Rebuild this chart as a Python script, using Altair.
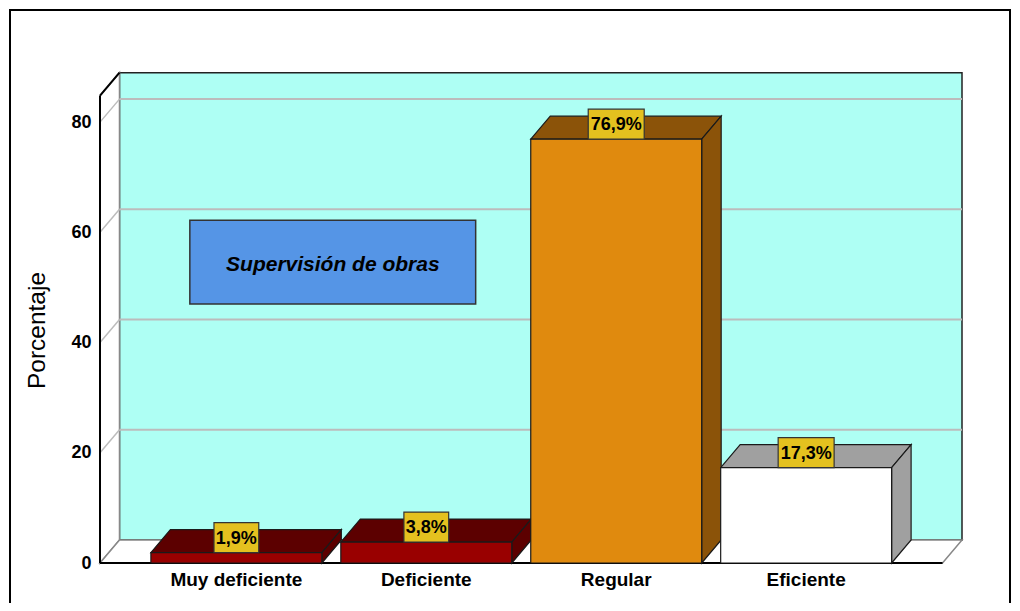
import altair as alt
import pandas as pd

# ---- data ----
categories = ["Muy deficiente", "Deficiente", "Regular", "Eficiente"]
values = [1.9, 3.8, 76.9, 17.3]
labels = ["1,9%", "3,8%", "76,9%", "17,3%"]
front_colors = ["#990000", "#990000", "#e08a0e", "#ffffff"]
shade_colors = ["#5c0000", "#5c0000", "#8b5309", "#a0a0a0"]
y_ticks = [0, 20, 40, 60, 80]
annotation = "Supervisión de obras"

# ---- geometry (styling constants) ----
PXX = 190.0          # px per category unit
PXY = 496.0 / 90.0   # px per value unit
HALF = 0.45          # half bar width (category units)
X0, X1 = -0.718, 3.718
DX = 19.5 / PXX      # depth offset x
DY = 23.0 / PXY      # depth offset y
TOP = 84.8
W = 862
H = 496
FONT = "Liberation Sans"

xs = alt.Scale(domain=[X0, X1 + DX], nice=False, zero=False)
ys = alt.Scale(domain=[0, 90], nice=False, zero=False)


def X(f, **kw):
    return alt.X(f, scale=xs, axis=None, **kw)


def Y(f, **kw):
    return alt.Y(f, scale=ys, **kw)


bars = pd.DataFrame({
    "name": categories, "v": values, "lab": labels,
    "front": front_colors, "shade": shade_colors,
    "i": list(range(len(categories))),
})
bars["L"] = bars["i"] - HALF
bars["R"] = bars["i"] + HALF

top_rows, side_rows = [], []
for r in bars.to_dict("records"):
    top_rows.append({"name": r["name"], "y": r["v"], "xa": r["L"], "xb": r["R"], "c": r["shade"]})
    top_rows.append({"name": r["name"], "y": r["v"] + DY, "xa": r["L"] + DX, "xb": r["R"] + DX, "c": r["shade"]})
    side_rows.append({"name": r["name"], "x": r["R"], "ya": r["v"], "yb": 0.0, "c": r["shade"]})
    side_rows.append({"name": r["name"], "x": r["R"] + DX, "ya": r["v"] + DY, "yb": DY, "c": r["shade"]})
top_df = pd.DataFrame(top_rows)
side_df = pd.DataFrame(side_rows)

one = pd.DataFrame({"a": [0]})

frame = alt.Chart(one).mark_rect(fill="transparent", stroke="black", strokeWidth=2).encode(
    x=alt.value(-90), x2=alt.value(910), y=alt.value(-57), y2=alt.value(600))

back = alt.Chart(pd.DataFrame({"x": [X0 + DX], "x2": [X1 + DX], "y": [DY], "y2": [TOP + DY]})).mark_rect(
    fill="#aefff4", stroke="#222", strokeWidth=1.5).encode(
    x=X("x:Q"), x2="x2:Q",
    y=alt.Y("y:Q", scale=ys, axis=alt.Axis(values=y_ticks, domain=False, ticks=False, grid=False,
                                           title="Porcentaje", titleFont=FONT, titleFontSize=24.5,
                                           titleFontWeight="normal", titleColor="black",
                                           titleX=-63, titleY=263, titleAngle=270,
                                           titleAlign="center", titleBaseline="middle",
                                           labelFont=FONT, labelFontSize=18, labelFontWeight="bold",
                                           labelColor="black", labelPadding=9)),
    y2="y2:Q")

side_wall = alt.Chart(pd.DataFrame({"x": [X0, X0 + DX], "ya": [TOP, TOP + DY], "yb": [0, DY]})).mark_area(
    fill="white", stroke="#888", strokeWidth=1.5).encode(
    x=X("x:Q"), y=Y("ya:Q", stack=None), y2="yb:Q")

floor = alt.Chart(pd.DataFrame({"y": [0, DY], "xa": [X0, X0 + DX], "xb": [X1, X1 + DX]})).mark_area(
    orient="horizontal", fill="white", stroke="#888", strokeWidth=1.5).encode(
    y=Y("y:Q"), x=X("xa:Q", stack=None), x2="xb:Q")

grid_vals = [v for v in y_ticks if v > 0]
gdf = pd.DataFrame({"v": grid_vals})
gdf["vb"] = gdf["v"] + DY
gdf["xa"] = X0
gdf["xb"] = X0 + DX
gdf["xc"] = X1 + DX
grid_back = alt.Chart(gdf).mark_rule(color="#bcbcbc", strokeWidth=2).encode(
    x=X("xb:Q"), x2="xc:Q", y=Y("vb:Q"))
grid_side = alt.Chart(gdf).mark_rule(color="#bcbcbc", strokeWidth=1.5).encode(
    x=X("xa:Q"), x2="xb:Q", y=Y("v:Q"), y2="vb:Q")

edges = pd.DataFrame({
    "xa": [X0, X0, X0],
    "xb": [X0, X1, X0 + DX],
    "ya": [0, 0, TOP],
    "yb": [TOP, 0, TOP + DY],
})
edge_rules = alt.Chart(edges).mark_rule(color="black", strokeWidth=2).encode(
    x=X("xa:Q"), x2="xb:Q", y=Y("ya:Q"), y2="yb:Q")

top_faces = alt.Chart(top_df).mark_area(orient="horizontal", stroke="#1a1a1a", strokeWidth=1.2).encode(
    y=Y("y:Q"), x=X("xa:Q", stack=None), x2="xb:Q",
    detail="name:N", fill=alt.Fill("c:N", scale=None))
side_faces = alt.Chart(side_df).mark_area(stroke="#1a1a1a", strokeWidth=1.2).encode(
    x=X("x:Q"), y=Y("ya:Q", stack=None), y2="yb:Q",
    detail="name:N", fill=alt.Fill("c:N", scale=None))
fronts = alt.Chart(bars).mark_rect(stroke="#1a1a1a", strokeWidth=1.2).encode(
    x=X("L:Q"), x2="R:Q", y=Y("v:Q"), y2=alt.datum(0),
    fill=alt.Fill("front:N", scale=None))

lab = bars.copy()
lab["hw"] = lab["lab"].str.len() * 5.6 / PXX
lab["bx0"] = lab["i"] - lab["hw"]
lab["bx1"] = lab["i"] + lab["hw"]
lab["by1"] = lab["v"] + 30.0 / PXY
lab["ty"] = lab["v"] + 15.0 / PXY
boxes = alt.Chart(lab).mark_rect(fill="#e4c11f", stroke="#333", strokeWidth=1.2).encode(
    x=X("bx0:Q"), x2="bx1:Q", y=Y("v:Q"), y2="by1:Q")
box_text = alt.Chart(lab).mark_text(font=FONT, fontSize=18, fontWeight="bold", color="black",
                                    baseline="middle", dy=1).encode(
    x=X("i:Q"), y=Y("ty:Q"), text="lab:N")

cat_text = alt.Chart(bars).mark_text(font=FONT, fontSize=19, fontWeight="bold", color="black",
                                     baseline="middle").encode(
    x=X("i:Q"), y=alt.value(H + 17), text="name:N")

ann = pd.DataFrame({"x": [-0.245], "x2": [1.26], "y": [47.0], "y2": [62.2],
                    "tx": [0.508], "ty": [54.0], "t": [annotation]})
ann_box = alt.Chart(ann).mark_rect(fill="#5595e6", stroke="#333", strokeWidth=1.5).encode(
    x=X("x:Q"), x2="x2:Q", y=Y("y:Q"), y2="y2:Q")
ann_text = alt.Chart(ann).mark_text(font=FONT, fontSize=21, fontWeight="bold", fontStyle="italic",
                                    color="black", baseline="middle").encode(
    x=X("tx:Q"), y=Y("ty:Q"), text="t:N")

chart = alt.layer(
    frame, back, side_wall, floor, grid_back, grid_side, edge_rules,
    top_faces, side_faces, fronts, boxes, box_text, cat_text, ann_box, ann_text
).properties(
    width=W, height=H,
    background="white",
    padding={"left": 92, "top": 59, "right": 50, "bottom": 40},
    autosize=alt.AutoSizeParams(type="none"),
).configure_view(stroke="transparent", strokeWidth=0).configure_axis(
    grid=False, domain=False, ticks=False
)

chart.save("out.html", embed_options={"renderer": "svg", "actions": False})
